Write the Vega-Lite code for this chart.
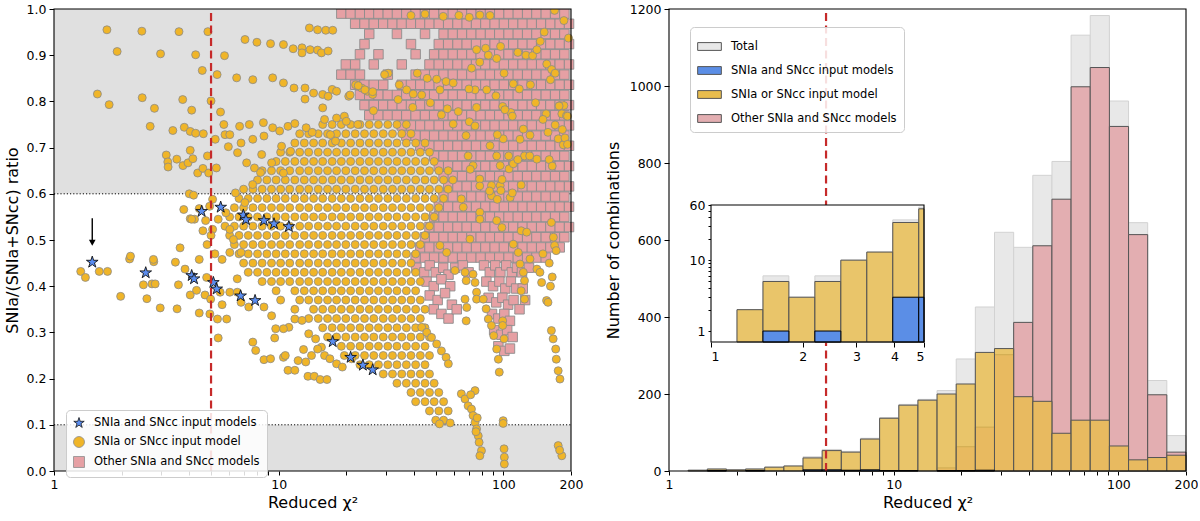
{
  "$schema": "https://vega.github.io/schema/vega-lite/v6.json",
  "background": "white",
  "padding": {"left": 4, "top": 3, "right": 0, "bottom": 2},
  "width": 1132,
  "height": 462,
  "config": {
    "font": "DejaVu Sans",
    "view": {"stroke": null},
    "axis": {"domain": false, "grid": false, "labelFont": "DejaVu Sans", "labelFontSize": 12.5, "labelColor": "black", "titleFont": "DejaVu Sans", "titleFontSize": 16, "titleFontWeight": "normal", "titleColor": "black", "tickColor": "black", "tickWidth": 1, "labelPadding": 3},
    "legend": {"labelFont": "DejaVu Sans", "labelFontSize": 11.5, "labelColor": "black", "labelLimit": 300, "fillColor": "rgba(255,255,255,0.85)", "strokeColor": "#cccccc", "cornerRadius": 4, "padding": 7, "rowPadding": 4, "labelOffset": 9, "direction": "vertical"}
  },
  "resolve": {"scale": {"x": "independent", "y": "independent"}, "axis": {"x": "independent", "y": "independent"}},
  "layer": [
    {
      "data": {"values": [{"x": 1, "x2": 200, "y": 0.6, "y2": 1}, {"x": 1, "x2": 200, "y": 0, "y2": 0.1}]},
      "mark": {"type": "rect", "fill": "#e0e0e0"},
      "encoding": {
        "x": {"field": "x", "type": "quantitative", "scale": {"type": "log", "domain": [1, 200], "range": [0, 517], "nice": false}, "axis": null},
        "x2": {"field": "x2"},
        "y": {"field": "y", "type": "quantitative", "scale": {"domain": [0, 1], "range": [462, 0], "nice": false}, "axis": null},
        "y2": {"field": "y2"}
      }
    },
    {
      "data": {"values": [{"x": 1, "x2": 200, "y": 0.6}, {"x": 1, "x2": 200, "y": 0.1}]},
      "mark": {"type": "rule", "color": "black", "strokeWidth": 1, "strokeDash": [1.2, 2]},
      "encoding": {
        "x": {"field": "x", "type": "quantitative", "scale": {"type": "log", "domain": [1, 200], "range": [0, 517], "nice": false}, "axis": null},
        "x2": {"field": "x2"},
        "y": {"field": "y", "type": "quantitative", "scale": {"domain": [0, 1], "range": [462, 0], "nice": false}, "axis": null}
      }
    },
    {
      "data": {"values": [
      {"x":19,"y":0.99},{"x":20.9,"y":0.99},{"x":23,"y":0.99},{"x":25.3,"y":0.99},{"x":27.8,"y":0.99},{"x":30.6,"y":0.99},{"x":33.6,"y":0.99},{"x":37,"y":0.99},{"x":40.7,"y":0.99},{"x":44.8,"y":0.99},{"x":49.2,"y":0.99},{"x":54.2,"y":0.99},{"x":59.6,"y":0.99},{"x":65.5,"y":0.99},{"x":72.1,"y":0.99},{"x":79.3,"y":0.99},{"x":87.2,"y":0.99},{"x":95.9,"y":0.99},{"x":105.5,"y":0.99},{"x":116,"y":0.99},{"x":127.6,"y":0.99},{"x":140.4,"y":0.99},{"x":154.5,"y":0.99},{"x":169.9,"y":0.99},{"x":186.9,"y":0.99},
      {"x":21.9,"y":0.968},{"x":24.1,"y":0.968},{"x":26.5,"y":0.968},{"x":29.2,"y":0.968},{"x":32.1,"y":0.968},{"x":35.3,"y":0.968},{"x":38.8,"y":0.968},{"x":42.7,"y":0.968},{"x":46.9,"y":0.968},{"x":51.6,"y":0.968},{"x":56.8,"y":0.968},{"x":62.5,"y":0.968},{"x":68.7,"y":0.968},{"x":75.6,"y":0.968},{"x":83.2,"y":0.968},{"x":91.5,"y":0.968},{"x":100.6,"y":0.968},{"x":110.7,"y":0.968},{"x":121.8,"y":0.968},{"x":133.9,"y":0.968},{"x":147.3,"y":0.968},{"x":162,"y":0.968},{"x":178.2,"y":0.968},{"x":196,"y":0.968},
      {"x":25.3,"y":0.946},{"x":33.6,"y":0.946},{"x":44.8,"y":0.946},{"x":54.2,"y":0.946},{"x":59.6,"y":0.946},{"x":65.5,"y":0.946},{"x":72.1,"y":0.946},{"x":79.3,"y":0.946},{"x":87.2,"y":0.946},{"x":95.9,"y":0.946},{"x":105.5,"y":0.946},{"x":116,"y":0.946},{"x":127.6,"y":0.946},{"x":140.4,"y":0.946},{"x":154.5,"y":0.946},{"x":169.9,"y":0.946},{"x":186.9,"y":0.946},
      {"x":24.1,"y":0.924},{"x":38.8,"y":0.924},{"x":51.6,"y":0.924},{"x":56.8,"y":0.924},{"x":62.5,"y":0.924},{"x":68.7,"y":0.924},{"x":75.6,"y":0.924},{"x":83.2,"y":0.924},{"x":91.5,"y":0.924},{"x":100.6,"y":0.924},{"x":110.7,"y":0.924},{"x":121.8,"y":0.924},{"x":133.9,"y":0.924},{"x":147.3,"y":0.924},{"x":162,"y":0.924},{"x":178.2,"y":0.924},{"x":196,"y":0.924},
      {"x":23,"y":0.902},{"x":27.8,"y":0.902},{"x":40.7,"y":0.902},{"x":49.2,"y":0.902},{"x":54.2,"y":0.902},{"x":59.6,"y":0.902},{"x":65.5,"y":0.902},{"x":72.1,"y":0.902},{"x":79.3,"y":0.902},{"x":87.2,"y":0.902},{"x":95.9,"y":0.902},{"x":105.5,"y":0.902},{"x":116,"y":0.902},{"x":127.6,"y":0.902},{"x":140.4,"y":0.902},{"x":154.5,"y":0.902},{"x":169.9,"y":0.902},{"x":186.9,"y":0.902},
      {"x":19.9,"y":0.88},{"x":21.9,"y":0.88},{"x":26.5,"y":0.88},{"x":35.3,"y":0.88},{"x":46.9,"y":0.88},{"x":51.6,"y":0.88},{"x":56.8,"y":0.88},{"x":62.5,"y":0.88},{"x":68.7,"y":0.88},{"x":75.6,"y":0.88},{"x":83.2,"y":0.88},{"x":91.5,"y":0.88},{"x":100.6,"y":0.88},{"x":110.7,"y":0.88},{"x":121.8,"y":0.88},{"x":133.9,"y":0.88},{"x":147.3,"y":0.88},{"x":162,"y":0.88},{"x":178.2,"y":0.88},{"x":196,"y":0.88},
      {"x":19,"y":0.858},{"x":20.9,"y":0.858},{"x":23,"y":0.858},{"x":30.6,"y":0.858},{"x":40.7,"y":0.858},{"x":44.8,"y":0.858},{"x":49.2,"y":0.858},{"x":54.2,"y":0.858},{"x":59.6,"y":0.858},{"x":65.5,"y":0.858},{"x":72.1,"y":0.858},{"x":79.3,"y":0.858},{"x":87.2,"y":0.858},{"x":95.9,"y":0.858},{"x":105.5,"y":0.858},{"x":116,"y":0.858},{"x":127.6,"y":0.858},{"x":140.4,"y":0.858},{"x":154.5,"y":0.858},{"x":169.9,"y":0.858},{"x":186.9,"y":0.858},
      {"x":21.9,"y":0.836},{"x":24.1,"y":0.836},{"x":26.5,"y":0.836},{"x":29.2,"y":0.836},{"x":35.3,"y":0.836},{"x":38.8,"y":0.836},{"x":42.7,"y":0.836},{"x":46.9,"y":0.836},{"x":51.6,"y":0.836},{"x":56.8,"y":0.836},{"x":62.5,"y":0.836},{"x":68.7,"y":0.836},{"x":75.6,"y":0.836},{"x":83.2,"y":0.836},{"x":91.5,"y":0.836},{"x":100.6,"y":0.836},{"x":110.7,"y":0.836},{"x":121.8,"y":0.836},{"x":133.9,"y":0.836},{"x":147.3,"y":0.836},{"x":162,"y":0.836},{"x":178.2,"y":0.836},{"x":196,"y":0.836},
      {"x":23,"y":0.814},{"x":25.3,"y":0.814},{"x":27.8,"y":0.814},{"x":30.6,"y":0.814},{"x":33.6,"y":0.814},{"x":37,"y":0.814},{"x":40.7,"y":0.814},{"x":44.8,"y":0.814},{"x":49.2,"y":0.814},{"x":54.2,"y":0.814},{"x":59.6,"y":0.814},{"x":65.5,"y":0.814},{"x":72.1,"y":0.814},{"x":79.3,"y":0.814},{"x":87.2,"y":0.814},{"x":95.9,"y":0.814},{"x":105.5,"y":0.814},{"x":116,"y":0.814},{"x":127.6,"y":0.814},{"x":140.4,"y":0.814},{"x":154.5,"y":0.814},{"x":169.9,"y":0.814},{"x":186.9,"y":0.814},
      {"x":24.1,"y":0.792},{"x":26.5,"y":0.792},{"x":29.2,"y":0.792},{"x":32.1,"y":0.792},{"x":35.3,"y":0.792},{"x":38.8,"y":0.792},{"x":42.7,"y":0.792},{"x":46.9,"y":0.792},{"x":51.6,"y":0.792},{"x":56.8,"y":0.792},{"x":62.5,"y":0.792},{"x":68.7,"y":0.792},{"x":75.6,"y":0.792},{"x":83.2,"y":0.792},{"x":91.5,"y":0.792},{"x":100.6,"y":0.792},{"x":110.7,"y":0.792},{"x":121.8,"y":0.792},{"x":133.9,"y":0.792},{"x":147.3,"y":0.792},{"x":162,"y":0.792},{"x":178.2,"y":0.792},{"x":196,"y":0.792},
      {"x":25.3,"y":0.77},{"x":27.8,"y":0.77},{"x":30.6,"y":0.77},{"x":33.6,"y":0.77},{"x":37,"y":0.77},{"x":40.7,"y":0.77},{"x":44.8,"y":0.77},{"x":49.2,"y":0.77},{"x":54.2,"y":0.77},{"x":59.6,"y":0.77},{"x":65.5,"y":0.77},{"x":72.1,"y":0.77},{"x":79.3,"y":0.77},{"x":87.2,"y":0.77},{"x":95.9,"y":0.77},{"x":105.5,"y":0.77},{"x":116,"y":0.77},{"x":127.6,"y":0.77},{"x":140.4,"y":0.77},{"x":154.5,"y":0.77},{"x":169.9,"y":0.77},{"x":186.9,"y":0.77},
      {"x":35.3,"y":0.748},{"x":38.8,"y":0.748},{"x":42.7,"y":0.748},{"x":46.9,"y":0.748},{"x":51.6,"y":0.748},{"x":56.8,"y":0.748},{"x":62.5,"y":0.748},{"x":68.7,"y":0.748},{"x":75.6,"y":0.748},{"x":83.2,"y":0.748},{"x":91.5,"y":0.748},{"x":100.6,"y":0.748},{"x":110.7,"y":0.748},{"x":121.8,"y":0.748},{"x":133.9,"y":0.748},{"x":147.3,"y":0.748},{"x":162,"y":0.748},{"x":178.2,"y":0.748},{"x":196,"y":0.748},
      {"x":37,"y":0.726},{"x":40.7,"y":0.726},{"x":44.8,"y":0.726},{"x":49.2,"y":0.726},{"x":54.2,"y":0.726},{"x":59.6,"y":0.726},{"x":65.5,"y":0.726},{"x":72.1,"y":0.726},{"x":79.3,"y":0.726},{"x":87.2,"y":0.726},{"x":95.9,"y":0.726},{"x":105.5,"y":0.726},{"x":116,"y":0.726},{"x":127.6,"y":0.726},{"x":140.4,"y":0.726},{"x":154.5,"y":0.726},{"x":169.9,"y":0.726},{"x":186.9,"y":0.726},
      {"x":42.7,"y":0.704},{"x":46.9,"y":0.704},{"x":51.6,"y":0.704},{"x":56.8,"y":0.704},{"x":62.5,"y":0.704},{"x":68.7,"y":0.704},{"x":75.6,"y":0.704},{"x":83.2,"y":0.704},{"x":91.5,"y":0.704},{"x":100.6,"y":0.704},{"x":110.7,"y":0.704},{"x":121.8,"y":0.704},{"x":133.9,"y":0.704},{"x":147.3,"y":0.704},{"x":162,"y":0.704},{"x":178.2,"y":0.704},{"x":196,"y":0.704},
      {"x":49.2,"y":0.682},{"x":54.2,"y":0.682},{"x":59.6,"y":0.682},{"x":65.5,"y":0.682},{"x":72.1,"y":0.682},{"x":79.3,"y":0.682},{"x":87.2,"y":0.682},{"x":95.9,"y":0.682},{"x":105.5,"y":0.682},{"x":116,"y":0.682},{"x":127.6,"y":0.682},{"x":140.4,"y":0.682},{"x":154.5,"y":0.682},{"x":169.9,"y":0.682},{"x":186.9,"y":0.682},
      {"x":51.6,"y":0.66},{"x":56.8,"y":0.66},{"x":62.5,"y":0.66},{"x":68.7,"y":0.66},{"x":75.6,"y":0.66},{"x":83.2,"y":0.66},{"x":91.5,"y":0.66},{"x":100.6,"y":0.66},{"x":110.7,"y":0.66},{"x":121.8,"y":0.66},{"x":133.9,"y":0.66},{"x":147.3,"y":0.66},{"x":162,"y":0.66},{"x":178.2,"y":0.66},{"x":196,"y":0.66},
      {"x":54.2,"y":0.638},{"x":59.6,"y":0.638},{"x":65.5,"y":0.638},{"x":72.1,"y":0.638},{"x":79.3,"y":0.638},{"x":87.2,"y":0.638},{"x":95.9,"y":0.638},{"x":105.5,"y":0.638},{"x":116,"y":0.638},{"x":127.6,"y":0.638},{"x":140.4,"y":0.638},{"x":154.5,"y":0.638},{"x":169.9,"y":0.638},{"x":186.9,"y":0.638},
      {"x":56.8,"y":0.616},{"x":62.5,"y":0.616},{"x":68.7,"y":0.616},{"x":75.6,"y":0.616},{"x":83.2,"y":0.616},{"x":91.5,"y":0.616},{"x":100.6,"y":0.616},{"x":110.7,"y":0.616},{"x":121.8,"y":0.616},{"x":133.9,"y":0.616},{"x":147.3,"y":0.616},{"x":162,"y":0.616},{"x":178.2,"y":0.616},{"x":196,"y":0.616},
      {"x":54.2,"y":0.594},{"x":59.6,"y":0.594},{"x":65.5,"y":0.594},{"x":72.1,"y":0.594},{"x":79.3,"y":0.594},{"x":87.2,"y":0.594},{"x":95.9,"y":0.594},{"x":105.5,"y":0.594},{"x":116,"y":0.594},{"x":127.6,"y":0.594},{"x":140.4,"y":0.594},{"x":154.5,"y":0.594},{"x":169.9,"y":0.594},{"x":186.9,"y":0.594},
      {"x":51.6,"y":0.572},{"x":56.8,"y":0.572},{"x":62.5,"y":0.572},{"x":68.7,"y":0.572},{"x":75.6,"y":0.572},{"x":83.2,"y":0.572},{"x":91.5,"y":0.572},{"x":100.6,"y":0.572},{"x":110.7,"y":0.572},{"x":121.8,"y":0.572},{"x":133.9,"y":0.572},{"x":147.3,"y":0.572},{"x":162,"y":0.572},{"x":178.2,"y":0.572},{"x":196,"y":0.572},
      {"x":49.2,"y":0.55},{"x":54.2,"y":0.55},{"x":59.6,"y":0.55},{"x":65.5,"y":0.55},{"x":72.1,"y":0.55},{"x":79.3,"y":0.55},{"x":87.2,"y":0.55},{"x":95.9,"y":0.55},{"x":105.5,"y":0.55},{"x":116,"y":0.55},{"x":127.6,"y":0.55},{"x":140.4,"y":0.55},{"x":154.5,"y":0.55},{"x":169.9,"y":0.55},{"x":186.9,"y":0.55},
      {"x":46.9,"y":0.528},{"x":51.6,"y":0.528},{"x":56.8,"y":0.528},{"x":62.5,"y":0.528},{"x":68.7,"y":0.528},{"x":75.6,"y":0.528},{"x":83.2,"y":0.528},{"x":91.5,"y":0.528},{"x":100.6,"y":0.528},{"x":110.7,"y":0.528},{"x":121.8,"y":0.528},{"x":133.9,"y":0.528},{"x":147.3,"y":0.528},{"x":162,"y":0.528},{"x":178.2,"y":0.528},{"x":196,"y":0.528},
      {"x":44.8,"y":0.506},{"x":49.2,"y":0.506},{"x":54.2,"y":0.506},{"x":59.6,"y":0.506},{"x":65.5,"y":0.506},{"x":72.1,"y":0.506},{"x":79.3,"y":0.506},{"x":87.2,"y":0.506},{"x":95.9,"y":0.506},{"x":105.5,"y":0.506},{"x":116,"y":0.506},{"x":127.6,"y":0.506},{"x":140.4,"y":0.506},{"x":154.5,"y":0.506},{"x":169.9,"y":0.506},{"x":186.9,"y":0.506},
      {"x":42.7,"y":0.484},{"x":46.9,"y":0.484},{"x":51.6,"y":0.484},{"x":56.8,"y":0.484},{"x":62.5,"y":0.484},{"x":68.7,"y":0.484},{"x":75.6,"y":0.484},{"x":83.2,"y":0.484},{"x":91.5,"y":0.484},{"x":100.6,"y":0.484},{"x":110.7,"y":0.484},{"x":121.8,"y":0.484},{"x":133.9,"y":0.484},{"x":147.3,"y":0.484},{"x":162,"y":0.484},{"x":178.2,"y":0.484},
      {"x":40.7,"y":0.462},{"x":44.8,"y":0.462},{"x":49.2,"y":0.462},{"x":54.2,"y":0.462},{"x":59.6,"y":0.462},{"x":65.5,"y":0.462},{"x":72.1,"y":0.462},{"x":79.3,"y":0.462},{"x":87.2,"y":0.462},{"x":95.9,"y":0.462},{"x":105.5,"y":0.462},{"x":116,"y":0.462},{"x":127.6,"y":0.462},{"x":140.4,"y":0.462},{"x":154.5,"y":0.462},
      {"x":41,"y":0.44},{"x":44.5,"y":0.43},{"x":47,"y":0.445},{"x":50,"y":0.43},{"x":54,"y":0.44},{"x":57,"y":0.425},{"x":61,"y":0.44},{"x":45.5,"y":0.41},{"x":49,"y":0.4},{"x":53,"y":0.415},{"x":58,"y":0.4},{"x":47,"y":0.38},{"x":51,"y":0.37},{"x":55,"y":0.385},{"x":59,"y":0.36},{"x":49,"y":0.35},{"x":53,"y":0.34},{"x":57,"y":0.33},{"x":62,"y":0.35},{"x":66,"y":0.445},{"x":70,"y":0.43},
      {"x":82,"y":0.445},{"x":87,"y":0.43},{"x":92,"y":0.445},{"x":97,"y":0.43},{"x":103,"y":0.445},{"x":109,"y":0.43},{"x":115,"y":0.44},{"x":121,"y":0.43},{"x":130,"y":0.44},{"x":84,"y":0.41},{"x":90,"y":0.4},{"x":96,"y":0.41},{"x":102,"y":0.395},{"x":108,"y":0.41},{"x":114,"y":0.395},{"x":122,"y":0.395},{"x":86,"y":0.375},{"x":93,"y":0.365},{"x":99,"y":0.375},{"x":105,"y":0.36},{"x":111,"y":0.37},{"x":125,"y":0.37},{"x":118,"y":0.35},{"x":89,"y":0.34},{"x":95,"y":0.33},{"x":101,"y":0.34},{"x":107,"y":0.325},{"x":91,"y":0.305},{"x":98,"y":0.295},{"x":104,"y":0.305},{"x":110,"y":0.29},{"x":95,"y":0.27},{"x":101,"y":0.26},{"x":107,"y":0.265}
      ]},
      "mark": {"type": "point", "filled": true, "opacity": 1, "size": 90, "strokeWidth": 0.9, "clip": true},
      "encoding": {
        "x": {"field": "x", "type": "quantitative", "scale": {"type": "log", "domain": [1, 200], "range": [0, 517], "nice": false},
          "axis": {"orient": "bottom", "title": "Reduced χ²", "values": [1,2,3,4,5,6,7,8,9,10,20,30,40,50,60,70,80,90,100,200],
            "labelExpr": "indexof([1,10,100,200], datum.value) >= 0 ? datum.value + '' : ''",
            "tickSize": 4, "labelFlush": false, "titlePadding": 4}},
        "y": {"field": "y", "type": "quantitative", "scale": {"domain": [0, 1], "range": [462, 0], "nice": false},
          "axis": {"orient": "left", "title": "SNIa/(SNIa+SNcc) ratio", "values": [0,0.1,0.2,0.3,0.4,0.5,0.6,0.7,0.8,0.9,1], "format": ".1f", "tickSize": 5, "titlePadding": 6}},
        "color": {"datum": "Other SNIa and SNcc models", "type": "nominal",
          "scale": {"domain": ["SNIa and SNcc input models", "SNIa or SNcc input model", "Other SNIa and SNcc models"], "range": ["#5b8def", "#f0b528", "#e6a0a4"]},
          "legend": {"title": null, "orient": "none", "legendX": 12, "legendY": 401, "symbolSize": 120, "symbolStrokeWidth": 0.8}},
        "shape": {"datum": "Other SNIa and SNcc models", "type": "nominal",
          "scale": {"domain": ["SNIa and SNcc input models", "SNIa or SNcc input model", "Other SNIa and SNcc models"], "range": ["M0,-1L0.2245,-0.309L0.951,-0.309L0.363,0.118L0.588,0.809L0,0.382L-0.588,0.809L-0.363,0.118L-0.951,-0.309L-0.2245,-0.309Z", "circle", "square"]},
          "legend": {"title": null}},
        "stroke": {"datum": "Other SNIa and SNcc models", "type": "nominal",
          "scale": {"domain": ["SNIa and SNcc input models", "SNIa or SNcc input model", "Other SNIa and SNcc models"], "range": ["#111111", "#8a8a8a", "#8c8c8c"]},
          "legend": {"title": null}}
      }
    },
    {
      "data": {"values": [
      {"x":15.7,"y":0.75},{"x":17.3,"y":0.75},{"x":19,"y":0.75},{"x":20.9,"y":0.75},{"x":23,"y":0.75},{"x":25.3,"y":0.75},{"x":27.8,"y":0.75},{"x":30.6,"y":0.75},{"x":33.6,"y":0.75},{"x":37,"y":0.75},
      {"x":12.4,"y":0.73},{"x":13.6,"y":0.73},{"x":15,"y":0.73},{"x":16.5,"y":0.73},{"x":18.1,"y":0.73},{"x":19.9,"y":0.73},{"x":21.9,"y":0.73},{"x":24.1,"y":0.73},{"x":26.5,"y":0.73},{"x":29.2,"y":0.73},{"x":32.1,"y":0.73},{"x":35.3,"y":0.73},{"x":38.8,"y":0.73},
      {"x":11.8,"y":0.71},{"x":13,"y":0.71},{"x":14.3,"y":0.71},{"x":15.7,"y":0.71},{"x":17.3,"y":0.71},{"x":19,"y":0.71},{"x":20.9,"y":0.71},{"x":23,"y":0.71},{"x":25.3,"y":0.71},{"x":27.8,"y":0.71},{"x":30.6,"y":0.71},{"x":33.6,"y":0.71},{"x":37,"y":0.71},{"x":40.7,"y":0.71},{"x":44.8,"y":0.71},
      {"x":10.2,"y":0.69},{"x":11.2,"y":0.69},{"x":12.4,"y":0.69},{"x":13.6,"y":0.69},{"x":15,"y":0.69},{"x":16.5,"y":0.69},{"x":18.1,"y":0.69},{"x":19.9,"y":0.69},{"x":21.9,"y":0.69},{"x":24.1,"y":0.69},{"x":26.5,"y":0.69},{"x":29.2,"y":0.69},{"x":32.1,"y":0.69},{"x":35.3,"y":0.69},{"x":38.8,"y":0.69},{"x":42.7,"y":0.69},{"x":46.9,"y":0.69},
      {"x":9.74,"y":0.67},{"x":10.7,"y":0.67},{"x":11.8,"y":0.67},{"x":13,"y":0.67},{"x":14.3,"y":0.67},{"x":15.7,"y":0.67},{"x":17.3,"y":0.67},{"x":19,"y":0.67},{"x":20.9,"y":0.67},{"x":23,"y":0.67},{"x":25.3,"y":0.67},{"x":27.8,"y":0.67},{"x":30.6,"y":0.67},{"x":33.6,"y":0.67},{"x":37,"y":0.67},{"x":40.7,"y":0.67},{"x":44.8,"y":0.67},{"x":49.2,"y":0.67},
      {"x":8.44,"y":0.65},{"x":9.29,"y":0.65},{"x":10.2,"y":0.65},{"x":11.2,"y":0.65},{"x":12.4,"y":0.65},{"x":13.6,"y":0.65},{"x":15,"y":0.65},{"x":16.5,"y":0.65},{"x":18.1,"y":0.65},{"x":19.9,"y":0.65},{"x":21.9,"y":0.65},{"x":24.1,"y":0.65},{"x":26.5,"y":0.65},{"x":29.2,"y":0.65},{"x":32.1,"y":0.65},{"x":35.3,"y":0.65},{"x":38.8,"y":0.65},{"x":42.7,"y":0.65},{"x":46.9,"y":0.65},{"x":51.6,"y":0.65},{"x":56.8,"y":0.65},
      {"x":8.05,"y":0.63},{"x":8.86,"y":0.63},{"x":9.74,"y":0.63},{"x":10.7,"y":0.63},{"x":11.8,"y":0.63},{"x":13,"y":0.63},{"x":14.3,"y":0.63},{"x":15.7,"y":0.63},{"x":17.3,"y":0.63},{"x":19,"y":0.63},{"x":20.9,"y":0.63},{"x":23,"y":0.63},{"x":25.3,"y":0.63},{"x":27.8,"y":0.63},{"x":30.6,"y":0.63},{"x":33.6,"y":0.63},{"x":37,"y":0.63},{"x":40.7,"y":0.63},{"x":44.8,"y":0.63},{"x":49.2,"y":0.63},{"x":54.2,"y":0.63},{"x":59.6,"y":0.63},
      {"x":6.98,"y":0.61},{"x":7.68,"y":0.61},{"x":8.44,"y":0.61},{"x":9.29,"y":0.61},{"x":10.2,"y":0.61},{"x":11.2,"y":0.61},{"x":12.4,"y":0.61},{"x":13.6,"y":0.61},{"x":15,"y":0.61},{"x":16.5,"y":0.61},{"x":18.1,"y":0.61},{"x":19.9,"y":0.61},{"x":21.9,"y":0.61},{"x":24.1,"y":0.61},{"x":26.5,"y":0.61},{"x":29.2,"y":0.61},{"x":32.1,"y":0.61},{"x":35.3,"y":0.61},{"x":38.8,"y":0.61},{"x":42.7,"y":0.61},{"x":46.9,"y":0.61},{"x":51.6,"y":0.61},{"x":56.8,"y":0.61},
      {"x":6.66,"y":0.59},{"x":7.32,"y":0.59},{"x":8.05,"y":0.59},{"x":8.86,"y":0.59},{"x":9.74,"y":0.59},{"x":10.7,"y":0.59},{"x":11.8,"y":0.59},{"x":13,"y":0.59},{"x":14.3,"y":0.59},{"x":15.7,"y":0.59},{"x":17.3,"y":0.59},{"x":19,"y":0.59},{"x":20.9,"y":0.59},{"x":23,"y":0.59},{"x":25.3,"y":0.59},{"x":27.8,"y":0.59},{"x":30.6,"y":0.59},{"x":33.6,"y":0.59},{"x":37,"y":0.59},{"x":40.7,"y":0.59},{"x":44.8,"y":0.59},{"x":49.2,"y":0.59},{"x":54.2,"y":0.59},
      {"x":6.35,"y":0.57},{"x":6.98,"y":0.57},{"x":7.68,"y":0.57},{"x":8.44,"y":0.57},{"x":9.29,"y":0.57},{"x":10.2,"y":0.57},{"x":11.2,"y":0.57},{"x":12.4,"y":0.57},{"x":13.6,"y":0.57},{"x":15,"y":0.57},{"x":16.5,"y":0.57},{"x":18.1,"y":0.57},{"x":19.9,"y":0.57},{"x":21.9,"y":0.57},{"x":24.1,"y":0.57},{"x":26.5,"y":0.57},{"x":29.2,"y":0.57},{"x":32.1,"y":0.57},{"x":35.3,"y":0.57},{"x":38.8,"y":0.57},{"x":42.7,"y":0.57},{"x":46.9,"y":0.57},{"x":51.6,"y":0.57},
      {"x":6.05,"y":0.55},{"x":6.66,"y":0.55},{"x":7.32,"y":0.55},{"x":8.05,"y":0.55},{"x":8.86,"y":0.55},{"x":9.74,"y":0.55},{"x":10.7,"y":0.55},{"x":11.8,"y":0.55},{"x":13,"y":0.55},{"x":14.3,"y":0.55},{"x":15.7,"y":0.55},{"x":17.3,"y":0.55},{"x":19,"y":0.55},{"x":20.9,"y":0.55},{"x":23,"y":0.55},{"x":25.3,"y":0.55},{"x":27.8,"y":0.55},{"x":30.6,"y":0.55},{"x":33.6,"y":0.55},{"x":37,"y":0.55},{"x":40.7,"y":0.55},{"x":44.8,"y":0.55},{"x":49.2,"y":0.55},
      {"x":5.77,"y":0.53},{"x":6.35,"y":0.53},{"x":6.98,"y":0.53},{"x":7.68,"y":0.53},{"x":8.44,"y":0.53},{"x":9.29,"y":0.53},{"x":10.2,"y":0.53},{"x":11.2,"y":0.53},{"x":12.4,"y":0.53},{"x":13.6,"y":0.53},{"x":15,"y":0.53},{"x":16.5,"y":0.53},{"x":18.1,"y":0.53},{"x":19.9,"y":0.53},{"x":21.9,"y":0.53},{"x":24.1,"y":0.53},{"x":26.5,"y":0.53},{"x":29.2,"y":0.53},{"x":32.1,"y":0.53},{"x":35.3,"y":0.53},{"x":38.8,"y":0.53},{"x":42.7,"y":0.53},{"x":46.9,"y":0.53},
      {"x":6.05,"y":0.51},{"x":6.66,"y":0.51},{"x":7.32,"y":0.51},{"x":8.05,"y":0.51},{"x":8.86,"y":0.51},{"x":9.74,"y":0.51},{"x":10.7,"y":0.51},{"x":11.8,"y":0.51},{"x":13,"y":0.51},{"x":14.3,"y":0.51},{"x":15.7,"y":0.51},{"x":17.3,"y":0.51},{"x":19,"y":0.51},{"x":20.9,"y":0.51},{"x":23,"y":0.51},{"x":25.3,"y":0.51},{"x":27.8,"y":0.51},{"x":30.6,"y":0.51},{"x":33.6,"y":0.51},{"x":37,"y":0.51},{"x":40.7,"y":0.51},{"x":44.8,"y":0.51},
      {"x":6.35,"y":0.49},{"x":6.98,"y":0.49},{"x":7.68,"y":0.49},{"x":8.44,"y":0.49},{"x":9.29,"y":0.49},{"x":10.2,"y":0.49},{"x":11.2,"y":0.49},{"x":12.4,"y":0.49},{"x":13.6,"y":0.49},{"x":15,"y":0.49},{"x":16.5,"y":0.49},{"x":18.1,"y":0.49},{"x":19.9,"y":0.49},{"x":21.9,"y":0.49},{"x":24.1,"y":0.49},{"x":26.5,"y":0.49},{"x":29.2,"y":0.49},{"x":32.1,"y":0.49},{"x":35.3,"y":0.49},{"x":38.8,"y":0.49},{"x":42.7,"y":0.49},
      {"x":6.66,"y":0.47},{"x":7.32,"y":0.47},{"x":8.05,"y":0.47},{"x":8.86,"y":0.47},{"x":9.74,"y":0.47},{"x":10.7,"y":0.47},{"x":11.8,"y":0.47},{"x":13,"y":0.47},{"x":14.3,"y":0.47},{"x":15.7,"y":0.47},{"x":17.3,"y":0.47},{"x":19,"y":0.47},{"x":20.9,"y":0.47},{"x":23,"y":0.47},{"x":25.3,"y":0.47},{"x":27.8,"y":0.47},{"x":30.6,"y":0.47},{"x":33.6,"y":0.47},{"x":37,"y":0.47},{"x":40.7,"y":0.47},
      {"x":6.98,"y":0.45},{"x":7.68,"y":0.45},{"x":8.44,"y":0.45},{"x":9.29,"y":0.45},{"x":10.2,"y":0.45},{"x":11.2,"y":0.45},{"x":12.4,"y":0.45},{"x":13.6,"y":0.45},{"x":15,"y":0.45},{"x":16.5,"y":0.45},{"x":18.1,"y":0.45},{"x":19.9,"y":0.45},{"x":21.9,"y":0.45},{"x":24.1,"y":0.45},{"x":26.5,"y":0.45},{"x":29.2,"y":0.45},{"x":32.1,"y":0.45},{"x":35.3,"y":0.45},{"x":38.8,"y":0.45},
      {"x":7.32,"y":0.43},{"x":8.05,"y":0.43},{"x":8.86,"y":0.43},{"x":9.74,"y":0.43},{"x":10.7,"y":0.43},{"x":11.8,"y":0.43},{"x":13,"y":0.43},{"x":14.3,"y":0.43},{"x":15.7,"y":0.43},{"x":17.3,"y":0.43},{"x":19,"y":0.43},{"x":20.9,"y":0.43},{"x":23,"y":0.43},{"x":25.3,"y":0.43},{"x":27.8,"y":0.43},{"x":30.6,"y":0.43},{"x":33.6,"y":0.43},{"x":37,"y":0.43},{"x":40.7,"y":0.43},
      {"x":8.44,"y":0.41},{"x":9.29,"y":0.41},{"x":10.2,"y":0.41},{"x":11.2,"y":0.41},{"x":12.4,"y":0.41},{"x":13.6,"y":0.41},{"x":15,"y":0.41},{"x":16.5,"y":0.41},{"x":18.1,"y":0.41},{"x":19.9,"y":0.41},{"x":21.9,"y":0.41},{"x":24.1,"y":0.41},{"x":26.5,"y":0.41},{"x":29.2,"y":0.41},{"x":32.1,"y":0.41},{"x":35.3,"y":0.41},{"x":38.8,"y":0.41},{"x":42.7,"y":0.41},
      {"x":9.74,"y":0.39},{"x":11.8,"y":0.39},{"x":13,"y":0.39},{"x":14.3,"y":0.39},{"x":15.7,"y":0.39},{"x":17.3,"y":0.39},{"x":19,"y":0.39},{"x":20.9,"y":0.39},{"x":23,"y":0.39},{"x":25.3,"y":0.39},{"x":27.8,"y":0.39},{"x":30.6,"y":0.39},{"x":33.6,"y":0.39},{"x":37,"y":0.39},{"x":40.7,"y":0.39},
      {"x":10.2,"y":0.37},{"x":12.4,"y":0.37},{"x":13.6,"y":0.37},{"x":15,"y":0.37},{"x":16.5,"y":0.37},{"x":18.1,"y":0.37},{"x":19.9,"y":0.37},{"x":21.9,"y":0.37},{"x":24.1,"y":0.37},{"x":26.5,"y":0.37},{"x":29.2,"y":0.37},{"x":32.1,"y":0.37},{"x":35.3,"y":0.37},{"x":38.8,"y":0.37},{"x":42.7,"y":0.37},
      {"x":11.8,"y":0.35},{"x":14.3,"y":0.35},{"x":15.7,"y":0.35},{"x":17.3,"y":0.35},{"x":19,"y":0.35},{"x":20.9,"y":0.35},{"x":23,"y":0.35},{"x":25.3,"y":0.35},{"x":27.8,"y":0.35},{"x":30.6,"y":0.35},{"x":33.6,"y":0.35},{"x":37,"y":0.35},{"x":40.7,"y":0.35},{"x":44.8,"y":0.35},
      {"x":13.6,"y":0.33},{"x":15,"y":0.33},{"x":16.5,"y":0.33},{"x":18.1,"y":0.33},{"x":19.9,"y":0.33},{"x":21.9,"y":0.33},{"x":24.1,"y":0.33},{"x":26.5,"y":0.33},{"x":29.2,"y":0.33},{"x":32.1,"y":0.33},{"x":35.3,"y":0.33},{"x":38.8,"y":0.33},{"x":42.7,"y":0.33},
      {"x":15.7,"y":0.31},{"x":17.3,"y":0.31},{"x":19,"y":0.31},{"x":20.9,"y":0.31},{"x":23,"y":0.31},{"x":25.3,"y":0.31},{"x":27.8,"y":0.31},{"x":30.6,"y":0.31},{"x":33.6,"y":0.31},{"x":37,"y":0.31},{"x":40.7,"y":0.31},{"x":44.8,"y":0.31},
      {"x":16.5,"y":0.29},{"x":18.1,"y":0.29},{"x":19.9,"y":0.29},{"x":21.9,"y":0.29},{"x":24.1,"y":0.29},{"x":26.5,"y":0.29},{"x":29.2,"y":0.29},{"x":32.1,"y":0.29},{"x":35.3,"y":0.29},{"x":38.8,"y":0.29},{"x":42.7,"y":0.29},{"x":46.9,"y":0.29},
      {"x":19,"y":0.27},{"x":20.9,"y":0.27},{"x":23,"y":0.27},{"x":25.3,"y":0.27},{"x":27.8,"y":0.27},{"x":30.6,"y":0.27},{"x":33.6,"y":0.27},{"x":37,"y":0.27},{"x":40.7,"y":0.27},{"x":44.8,"y":0.27},
      {"x":21.9,"y":0.25},{"x":24.1,"y":0.25},{"x":26.5,"y":0.25},{"x":29.2,"y":0.25},{"x":32.1,"y":0.25},{"x":35.3,"y":0.25},{"x":38.8,"y":0.25},{"x":42.7,"y":0.25},{"x":46.9,"y":0.25},
      {"x":23,"y":0.23},{"x":25.3,"y":0.23},{"x":27.8,"y":0.23},{"x":30.6,"y":0.23},{"x":33.6,"y":0.23},{"x":37,"y":0.23},{"x":40.7,"y":0.23},{"x":44.8,"y":0.23},
      {"x":29.2,"y":0.21},{"x":32.1,"y":0.21},{"x":35.3,"y":0.21},{"x":38.8,"y":0.21},{"x":42.7,"y":0.21},{"x":46.9,"y":0.21},
      {"x":33.6,"y":0.19},{"x":37,"y":0.19},{"x":40.7,"y":0.19},{"x":44.8,"y":0.19},{"x":49.2,"y":0.19},
      {"x":38.8,"y":0.17},{"x":42.7,"y":0.17},{"x":46.9,"y":0.17},{"x":51.6,"y":0.17},
      {"x":40.7,"y":0.15},{"x":44.8,"y":0.15},{"x":49.2,"y":0.15},{"x":54.2,"y":0.15},
      {"x":46.9,"y":0.13},{"x":51.6,"y":0.13},{"x":56.8,"y":0.13},
      {"x":50,"y":0.11},{"x":54.2,"y":0.11},{"x":52,"y":0.102},{"x":58,"y":0.104},
      {"x":1.72,"y":0.955},{"x":2.46,"y":0.952},{"x":3.6,"y":0.951},{"x":4.84,"y":0.951},{"x":1.91,"y":0.908},{"x":2.98,"y":0.903},{"x":4.27,"y":0.901},{"x":4.57,"y":0.867},{"x":5.74,"y":0.899},{"x":5.32,"y":0.858},{"x":1.56,"y":0.816},{"x":1.76,"y":0.793},{"x":2.47,"y":0.808},{"x":2.8,"y":0.785},{"x":3.74,"y":0.804},{"x":4.1,"y":0.781},{"x":5,"y":0.801},{"x":5.51,"y":0.777},{"x":2.68,"y":0.746},{"x":3.38,"y":0.737},{"x":3.8,"y":0.744},{"x":4.04,"y":0.735},{"x":4.27,"y":0.731},{"x":4.62,"y":0.73},{"x":3.16,"y":0.684},{"x":3.21,"y":0.669},{"x":3.22,"y":0.658},{"x":3.52,"y":0.675},{"x":3.75,"y":0.661},{"x":4.04,"y":0.694},{"x":3.95,"y":0.667},{"x":4.15,"y":0.676},{"x":4.36,"y":0.645},{"x":4.6,"y":0.655},{"x":4.82,"y":0.682},{"x":4.88,"y":0.645},{"x":4,"y":0.6},{"x":4.18,"y":0.597},{"x":3.78,"y":0.566},{"x":4.04,"y":0.546},{"x":4.22,"y":0.545},{"x":4.93,"y":0.573},{"x":5.08,"y":0.588},{"x":5.28,"y":0.656},{"x":5.22,"y":0.718},{"x":5.7,"y":0.75},{"x":5.77,"y":0.728},{"x":6.06,"y":0.728},{"x":5.97,"y":0.702},
      {"x":7.08,"y":0.934},{"x":8,"y":0.928},{"x":9.2,"y":0.925},{"x":10.5,"y":0.923},{"x":11.6,"y":0.914},{"x":12.7,"y":0.916},{"x":12.7,"y":0.905},{"x":13.8,"y":0.912},{"x":14.9,"y":0.911},{"x":15.5,"y":0.905},{"x":16.6,"y":0.909},{"x":13.7,"y":0.959},{"x":14.9,"y":0.955},{"x":16.2,"y":0.954},{"x":17.4,"y":0.954},{"x":6.5,"y":0.851},{"x":7.67,"y":0.847},{"x":9.4,"y":0.851},{"x":10.5,"y":0.84},{"x":11.7,"y":0.829},{"x":13.1,"y":0.829},{"x":13.1,"y":0.805},{"x":14.3,"y":0.818},{"x":15.7,"y":0.815},{"x":15.7,"y":0.786},{"x":16.6,"y":0.811},{"x":17.3,"y":0.826},{"x":18.1,"y":0.822},{"x":20.5,"y":0.811},{"x":22,"y":0.836},{"x":23.4,"y":0.829},{"x":24.8,"y":0.822},{"x":26.2,"y":0.815},{"x":6.7,"y":0.746},{"x":7.4,"y":0.75},{"x":8.55,"y":0.754},{"x":9.4,"y":0.743},{"x":10.1,"y":0.736},{"x":11,"y":0.746},{"x":11.8,"y":0.752},{"x":13.25,"y":0.743},{"x":14.1,"y":0.733},{"x":16,"y":0.761},{"x":18.1,"y":0.764},{"x":19.6,"y":0.768},{"x":20,"y":0.757},{"x":22.5,"y":0.75},{"x":6.8,"y":0.71},{"x":7.67,"y":0.718},{"x":8.6,"y":0.725},{"x":10.3,"y":0.703},{"x":11.3,"y":0.692},{"x":17.9,"y":0.714},{"x":17,"y":0.728},{"x":6.56,"y":0.689},{"x":7.2,"y":0.667},{"x":7.8,"y":0.656},{"x":8.4,"y":0.685},{"x":9.3,"y":0.667},{"x":10.5,"y":0.645},
      {"x":1.315,"y":0.432},{"x":1.38,"y":0.419},{"x":1.59,"y":0.432},{"x":1.73,"y":0.432},{"x":1.98,"y":0.378},{"x":2.17,"y":0.459},{"x":2.5,"y":0.403},{"x":2.59,"y":0.373},{"x":2.73,"y":0.405},{"x":2.82,"y":0.405},{"x":2.78,"y":0.453},{"x":2.97,"y":0.353},{"x":3.47,"y":0.452},{"x":3.58,"y":0.403},{"x":3.53,"y":0.351},{"x":3.83,"y":0.437},{"x":4.04,"y":0.381},{"x":4.31,"y":0.391},{"x":4.43,"y":0.342},{"x":4.7,"y":0.381},{"x":4.78,"y":0.419},{"x":4.94,"y":0.34},{"x":4.98,"y":0.372},{"x":5.49,"y":0.387},{"x":5.34,"y":0.329},{"x":5.38,"y":0.288},{"x":5.6,"y":0.36},{"x":5.87,"y":0.329},{"x":6.06,"y":0.387},{"x":6.54,"y":0.387},{"x":6.54,"y":0.416},{"x":6.8,"y":0.365},{"x":7.36,"y":0.355},{"x":8.6,"y":0.355},{"x":9.3,"y":0.336},{"x":9.6,"y":0.288},{"x":7.67,"y":0.279},{"x":7.9,"y":0.261},{"x":8.6,"y":0.241},{"x":9.2,"y":0.243},{"x":10.5,"y":0.246},{"x":10.7,"y":0.25},{"x":11,"y":0.218},{"x":11.8,"y":0.218},{"x":12.2,"y":0.239},{"x":12.9,"y":0.263},{"x":13.2,"y":0.236},{"x":13.5,"y":0.205},{"x":14.4,"y":0.205},{"x":15.3,"y":0.198},{"x":16.4,"y":0.198},{"x":11.8,"y":0.329},{"x":12.7,"y":0.326},{"x":11.1,"y":0.311},{"x":10.5,"y":0.308},{"x":9.7,"y":0.308},{"x":13.6,"y":0.297},{"x":14.6,"y":0.286},{"x":15.5,"y":0.268},{"x":16,"y":0.25},{"x":16.9,"y":0.243},{"x":18.1,"y":0.232},{"x":14,"y":0.25},{"x":14.9,"y":0.264},{"x":19.6,"y":0.25},{"x":19.2,"y":0.225},{"x":21.1,"y":0.243},
      {"x":4.43,"y":0.568},{"x":4.73,"y":0.542},{"x":4.1,"y":0.545},{"x":3.64,"y":0.483},{"x":2.19,"y":0.465},{"x":2.77,"y":0.458},{"x":4.43,"y":0.458},{"x":5.6,"y":0.458},{"x":5.08,"y":0.523},{"x":5.38,"y":0.545},{"x":5.82,"y":0.559},{"x":6.06,"y":0.523},{"x":6.29,"y":0.501},{"x":6.8,"y":0.473},{"x":6.06,"y":0.473},{"x":7.07,"y":0.581},{"x":6.42,"y":0.602},{"x":7.66,"y":0.62},{"x":8.3,"y":0.646},{"x":4.6,"y":0.52},{"x":5,"y":0.51},{"x":4.8,"y":0.49},{"x":5.2,"y":0.47},
      {"x":38.8,"y":0.986},{"x":44.8,"y":0.989},{"x":54,"y":0.984},{"x":63.4,"y":0.986},{"x":70.5,"y":0.982},{"x":78.6,"y":0.987},{"x":87.2,"y":0.986},{"x":169,"y":0.997},{"x":186,"y":0.975},{"x":195,"y":0.937},{"x":76,"y":0.912},{"x":83.4,"y":0.915},{"x":85.7,"y":0.9},{"x":93.4,"y":0.893},{"x":97.2,"y":0.919},{"x":116,"y":0.906},{"x":126,"y":0.9},{"x":135,"y":0.899},{"x":141,"y":0.912},{"x":156,"y":0.881},{"x":164,"y":0.869},{"x":170,"y":0.861},{"x":72.2,"y":0.872},{"x":74.8,"y":0.825},{"x":84.3,"y":0.825},{"x":92.7,"y":0.812},{"x":100.7,"y":0.861},{"x":110.7,"y":0.838},{"x":117.7,"y":0.827},{"x":99.3,"y":0.789},{"x":107.9,"y":0.776},{"x":122.7,"y":0.74},{"x":131.4,"y":0.727},{"x":155,"y":0.773},{"x":170,"y":0.749},{"x":178.6,"y":0.791},{"x":186,"y":0.791},{"x":182,"y":0.773},{"x":191,"y":0.769},{"x":175.5,"y":0.719},{"x":184.8,"y":0.706},{"x":30.7,"y":0.861},{"x":34.4,"y":0.836},{"x":37.1,"y":0.825},{"x":39.7,"y":0.816},{"x":43.3,"y":0.814},{"x":41.4,"y":0.861},{"x":45.8,"y":0.85},{"x":50.5,"y":0.848},{"x":55.6,"y":0.843},{"x":59.8,"y":0.84},{"x":52.2,"y":0.825},{"x":70.3,"y":0.827},{"x":22.6,"y":0.834},{"x":24.2,"y":0.825},{"x":26.2,"y":0.821},{"x":20.8,"y":0.814},{"x":26.4,"y":0.78},{"x":39.5,"y":0.787},{"x":56.3,"y":0.784},{"x":63,"y":0.778},{"x":76,"y":0.787},{"x":70.5,"y":0.756},{"x":74.8,"y":0.747},{"x":59.8,"y":0.751},{"x":53,"y":0.771},{"x":68.2,"y":0.726},{"x":87.2,"y":0.704},{"x":93.4,"y":0.682},{"x":96.8,"y":0.661},{"x":106,"y":0.654},{"x":110.7,"y":0.665},{"x":69.7,"y":0.682},{"x":73.3,"y":0.661},{"x":78.5,"y":0.632},{"x":78.5,"y":0.617},{"x":88.5,"y":0.618},{"x":88.5,"y":0.596},{"x":96.8,"y":0.618},{"x":97.5,"y":0.607},{"x":107.2,"y":0.592},{"x":120,"y":0.619},{"x":124.2,"y":0.682},{"x":99.8,"y":0.719},{"x":65,"y":0.589},{"x":66.3,"y":0.571},{"x":78.6,"y":0.56},{"x":78.6,"y":0.545},{"x":93.4,"y":0.542},{"x":98.5,"y":0.527},{"x":120,"y":0.52},{"x":127,"y":0.517},{"x":163.5,"y":0.538},{"x":167,"y":0.506},{"x":141,"y":0.675},{"x":158,"y":0.733},{"x":162,"y":0.847},{"x":132,"y":0.836},{"x":139,"y":0.797},{"x":150,"y":0.761},{"x":177,"y":0.79},{"x":193,"y":0.768},{"x":183,"y":0.739},{"x":188,"y":0.721},{"x":193,"y":0.707},{"x":94,"y":0.728},{"x":105.6,"y":0.682},{"x":116,"y":0.674},{"x":131,"y":0.682},{"x":98.6,"y":0.631},{"x":86.8,"y":0.606},{"x":109.6,"y":0.602},{"x":94,"y":0.588},{"x":71.2,"y":0.653},{"x":118.6,"y":0.718},{"x":160,"y":0.674},{"x":165,"y":0.66},{"x":101.6,"y":0.782},{"x":109.6,"y":0.768},{"x":29.6,"y":0.858},{"x":34,"y":0.804},{"x":47.3,"y":0.797},{"x":78.5,"y":0.885},{"x":146,"y":0.93},{"x":152,"y":0.95},
      {"x":110.7,"y":0.491},{"x":116.5,"y":0.473},{"x":71,"y":0.502},{"x":52.2,"y":0.488},{"x":55.9,"y":0.473},{"x":169,"y":0.488},{"x":171.8,"y":0.477},{"x":60.9,"y":0.434},{"x":67.5,"y":0.43},{"x":68.3,"y":0.412},{"x":67.5,"y":0.372},{"x":68.7,"y":0.354},{"x":68.3,"y":0.325},{"x":73.3,"y":0.426},{"x":74.8,"y":0.408},{"x":76,"y":0.387},{"x":76,"y":0.372},{"x":81.4,"y":0.372},{"x":83.8,"y":0.351},{"x":85.7,"y":0.329},{"x":88.5,"y":0.315},{"x":90.6,"y":0.293},{"x":93.4,"y":0.264},{"x":95,"y":0.242},{"x":95.9,"y":0.214},{"x":99.3,"y":0.325},{"x":99.3,"y":0.315},{"x":100.7,"y":0.286},{"x":118.6,"y":0.448},{"x":122.7,"y":0.43},{"x":124.2,"y":0.412},{"x":120,"y":0.39},{"x":124.2,"y":0.372},{"x":131.4,"y":0.459},{"x":141,"y":0.437},{"x":145.5,"y":0.43},{"x":148,"y":0.408},{"x":155.7,"y":0.369},{"x":158,"y":0.365},{"x":150,"y":0.47},{"x":160,"y":0.45},{"x":165,"y":0.42},{"x":162,"y":0.4},{"x":163.6,"y":0.304},{"x":166.6,"y":0.286},{"x":171,"y":0.264},{"x":172,"y":0.242},{"x":175.4,"y":0.217},{"x":178.6,"y":0.199},
      {"x":43.3,"y":0.311},{"x":45.6,"y":0.3},{"x":47.9,"y":0.289},{"x":50.5,"y":0.275},{"x":53,"y":0.26},{"x":55.6,"y":0.246},{"x":56.9,"y":0.232},
      {"x":65,"y":0.167},{"x":67.5,"y":0.156},{"x":69.7,"y":0.141},{"x":72.1,"y":0.134},{"x":73.3,"y":0.12},{"x":74.8,"y":0.105},{"x":76,"y":0.091},{"x":77.3,"y":0.076},{"x":78,"y":0.062},{"x":79.9,"y":0.044},{"x":78.6,"y":0.033},{"x":74.8,"y":0.174},{"x":71.5,"y":0.165},{"x":76.5,"y":0.115},{"x":75.5,"y":0.085},
      {"x":99.8,"y":0.109},{"x":99.8,"y":0.103},{"x":100.7,"y":0.048},{"x":101,"y":0.03},{"x":101,"y":0.015},{"x":175.4,"y":0.055},{"x":182,"y":0.033},{"x":178,"y":0.045}
      ]},
      "mark": {"type": "point", "filled": true, "opacity": 1, "size": 64, "strokeWidth": 0.8, "clip": true},
      "encoding": {
        "x": {"field": "x", "type": "quantitative", "scale": {"type": "log", "domain": [1, 200], "range": [0, 517], "nice": false}, "axis": null},
        "y": {"field": "y", "type": "quantitative", "scale": {"domain": [0, 1], "range": [462, 0], "nice": false}, "axis": null},
        "color": {"datum": "SNIa or SNcc input model", "type": "nominal"},
        "shape": {"datum": "SNIa or SNcc input model", "type": "nominal"},
        "stroke": {"datum": "SNIa or SNcc input model", "type": "nominal"}
      }
    },
    {
      "data": {"values": [
      {"x":1.48,"y":0.452},{"x":2.56,"y":0.429},{"x":4.1,"y":0.423},{"x":4.2,"y":0.416},{"x":4.54,"y":0.562},{"x":5.12,"y":0.408},{"x":5.3,"y":0.394},{"x":5.52,"y":0.571},{"x":6.77,"y":0.379},{"x":6.96,"y":0.554},{"x":7.15,"y":0.544},{"x":7.85,"y":0.369},{"x":8.6,"y":0.542},{"x":9.53,"y":0.535},{"x":11.1,"y":0.529},{"x":17.4,"y":0.28},{"x":20.9,"y":0.246},{"x":23.7,"y":0.229},{"x":26.2,"y":0.219}
      ]},
      "mark": {"type": "point", "filled": true, "opacity": 1, "size": 150, "strokeWidth": 0.9},
      "encoding": {
        "x": {"field": "x", "type": "quantitative", "scale": {"type": "log", "domain": [1, 200], "range": [0, 517], "nice": false}, "axis": null},
        "y": {"field": "y", "type": "quantitative", "scale": {"domain": [0, 1], "range": [462, 0], "nice": false}, "axis": null},
        "color": {"datum": "SNIa and SNcc input models", "type": "nominal"},
        "shape": {"datum": "SNIa and SNcc input models", "type": "nominal"},
        "stroke": {"datum": "SNIa and SNcc input models", "type": "nominal"}
      }
    },
    {
      "data": {"values": [{"x": 5, "y": 0, "y2": 1}]},
      "mark": {"type": "rule", "color": "#c62a2a", "strokeWidth": 2.2, "strokeDash": [8, 4.5]},
      "encoding": {
        "x": {"field": "x", "type": "quantitative", "scale": {"type": "log", "domain": [1, 200], "range": [0, 517], "nice": false}, "axis": null},
        "y": {"field": "y", "type": "quantitative", "scale": {"domain": [0, 1], "range": [462, 0], "nice": false}, "axis": null},
        "y2": {"field": "y2"}
      }
    },
    {
      "data": {"values": [{"x": 1.48, "y": 0.547, "y2": 0.5}]},
      "mark": {"type": "rule", "color": "black", "strokeWidth": 1.4},
      "encoding": {
        "x": {"field": "x", "type": "quantitative", "scale": {"type": "log", "domain": [1, 200], "range": [0, 517], "nice": false}, "axis": null},
        "y": {"field": "y", "type": "quantitative", "scale": {"domain": [0, 1], "range": [462, 0], "nice": false}, "axis": null},
        "y2": {"field": "y2"}
      }
    },
    {
      "data": {"values": [{"x": 1.48, "y": 0.494}]},
      "mark": {"type": "point", "shape": "triangle-down", "filled": true, "color": "black", "size": 45, "opacity": 1},
      "encoding": {
        "x": {"field": "x", "type": "quantitative", "scale": {"type": "log", "domain": [1, 200], "range": [0, 517], "nice": false}, "axis": null},
        "y": {"field": "y", "type": "quantitative", "scale": {"domain": [0, 1], "range": [462, 0], "nice": false}, "axis": null}
      }
    },
    {
      "data": {"values": [{"x": 1, "x2": 200, "y": 0, "y2": 1}]},
      "mark": {"type": "rect", "filled": false, "color": "black", "strokeWidth": 1.1},
      "encoding": {
        "x": {"field": "x", "type": "quantitative", "scale": {"type": "log", "domain": [1, 200], "range": [0, 517], "nice": false}, "axis": null},
        "x2": {"field": "x2"},
        "y": {"field": "y", "type": "quantitative", "scale": {"domain": [0, 1], "range": [462, 0], "nice": false}, "axis": null},
        "y2": {"field": "y2"}
      }
    },
    {
      "data": {"values": [
        {"lo":1.217,"hi":1.481,"n":2},{"lo":1.481,"hi":1.801,"n":6},{"lo":1.801,"hi":2.192,"n":3},{"lo":2.192,"hi":2.667,"n":6},{"lo":2.667,"hi":3.245,"n":10},{"lo":3.245,"hi":3.949,"n":13},{"lo":3.949,"hi":4.805,"n":37},{"lo":4.805,"hi":5.847,"n":56},{"lo":5.847,"hi":7.115,"n":51},{"lo":7.115,"hi":8.657,"n":85},{"lo":8.657,"hi":10.54,"n":139},{"lo":10.54,"hi":12.82,"n":173},{"lo":12.82,"hi":15.6,"n":186},{"lo":15.6,"hi":18.98,"n":209},{"lo":18.98,"hi":23.09,"n":291},{"lo":23.09,"hi":28.1,"n":426},{"lo":28.1,"hi":34.2,"n":620},{"lo":34.2,"hi":41.61,"n":581},{"lo":41.61,"hi":50.63,"n":768},{"lo":50.63,"hi":61.6,"n":804},{"lo":61.6,"hi":74.95,"n":1132},{"lo":74.95,"hi":91.22,"n":1183},{"lo":91.22,"hi":111,"n":961},{"lo":111,"hi":135.05,"n":645},{"lo":135.05,"hi":164.3,"n":235},{"lo":164.3,"hi":200,"n":92}
      ]},
      "mark": {"type": "rect", "strokeWidth": 1, "stroke": "#d2d2d2"},
      "encoding": {
        "x": {"field": "lo", "type": "quantitative", "scale": {"type": "log", "domain": [1, 200], "range": [615, 1132], "nice": false},
          "axis": {"orient": "bottom", "title": "Reduced χ²", "values": [1,2,3,4,5,6,7,8,9,10,20,30,40,50,60,70,80,90,100,200],
            "labelExpr": "indexof([1,10,100,200], datum.value) >= 0 ? datum.value + '' : ''",
            "tickSize": 4, "labelFlush": false, "titlePadding": 4}},
        "x2": {"field": "hi"},
        "y": {"field": "n", "type": "quantitative", "scale": {"domain": [0, 1200], "range": [462, 0], "nice": false},
          "axis": {"orient": "left", "offset": -615, "title": "Number of combinations", "values": [0,200,400,600,800,1000,1200], "format": "d", "tickSize": 5, "titlePadding": 8}},
        "y2": {"datum": 0},
        "fill": {"datum": "Total", "type": "nominal",
          "scale": {"domain": ["Total", "SNIa and SNcc input models", "SNIa or SNcc input model", "Other SNIa and SNcc models"], "range": ["#e8e8e8", "#5b8ee6", "#e9bd4e", "#e3aeb1"]},
          "legend": {"title": null, "orient": "none", "legendX": 636, "legendY": 18, "symbolType": "M-1,-0.33H1V0.33H-1Z", "symbolSize": 560, "symbolStrokeColor": "#555555", "symbolStrokeWidth": 1, "rowPadding": 5}}
      }
    },
    {
      "data": {"values": [
        {"lo":15.6,"hi":18.98,"n":8},{"lo":18.98,"hi":23.09,"n":63},{"lo":23.09,"hi":28.1,"n":114},{"lo":28.1,"hi":34.2,"n":302},{"lo":34.2,"hi":41.61,"n":386},{"lo":41.61,"hi":50.63,"n":585},{"lo":50.63,"hi":61.6,"n":706},{"lo":61.6,"hi":74.95,"n":998},{"lo":74.95,"hi":91.22,"n":1048},{"lo":91.22,"hi":111,"n":895},{"lo":111,"hi":135.05,"n":614},{"lo":135.05,"hi":164.3,"n":198},{"lo":164.3,"hi":200,"n":49}
      ]},
      "mark": {"type": "rect", "strokeWidth": 1, "stroke": "#555555"},
      "encoding": {
        "x": {"field": "lo", "type": "quantitative", "scale": {"type": "log", "domain": [1, 200], "range": [615, 1132], "nice": false}, "axis": null},
        "x2": {"field": "hi"},
        "y": {"field": "n", "type": "quantitative", "scale": {"domain": [0, 1200], "range": [462, 0], "nice": false}, "axis": null},
        "y2": {"datum": 0},
        "fill": {"datum": "Other SNIa and SNcc models", "type": "nominal"}
      }
    },
    {
      "data": {"values": [
        {"lo":1.217,"hi":1.481,"n":2},{"lo":1.481,"hi":1.801,"n":5},{"lo":1.801,"hi":2.192,"n":3},{"lo":2.192,"hi":2.667,"n":5},{"lo":2.667,"hi":3.245,"n":10},{"lo":3.245,"hi":3.949,"n":13},{"lo":3.949,"hi":4.805,"n":34},{"lo":4.805,"hi":5.847,"n":53},{"lo":5.847,"hi":7.115,"n":49},{"lo":7.115,"hi":8.657,"n":83},{"lo":8.657,"hi":10.54,"n":137},{"lo":10.54,"hi":12.82,"n":171},{"lo":12.82,"hi":15.6,"n":184},{"lo":15.6,"hi":18.98,"n":200},{"lo":18.98,"hi":23.09,"n":226},{"lo":23.09,"hi":28.1,"n":308},{"lo":28.1,"hi":34.2,"n":318},{"lo":34.2,"hi":41.61,"n":193},{"lo":41.61,"hi":50.63,"n":181},{"lo":50.63,"hi":61.6,"n":98},{"lo":61.6,"hi":74.95,"n":132},{"lo":74.95,"hi":91.22,"n":132},{"lo":91.22,"hi":111,"n":65},{"lo":111,"hi":135.05,"n":29},{"lo":135.05,"hi":164.3,"n":35},{"lo":164.3,"hi":200,"n":41}
      ]},
      "mark": {"type": "rect", "strokeWidth": 1, "stroke": "#555555", "fillOpacity": 0.82},
      "encoding": {
        "x": {"field": "lo", "type": "quantitative", "scale": {"type": "log", "domain": [1, 200], "range": [615, 1132], "nice": false}, "axis": null},
        "x2": {"field": "hi"},
        "y": {"field": "n", "type": "quantitative", "scale": {"domain": [0, 1200], "range": [462, 0], "nice": false}, "axis": null},
        "y2": {"datum": 0},
        "fill": {"datum": "SNIa or SNcc input model", "type": "nominal"}
      }
    },
    {
      "data": {"values": [
        {"lo":1.481,"hi":1.801,"n":1},{"lo":2.192,"hi":2.667,"n":1},{"lo":3.949,"hi":4.805,"n":3},{"lo":4.805,"hi":5.847,"n":3},{"lo":5.847,"hi":7.115,"n":2},{"lo":7.115,"hi":8.657,"n":3},{"lo":8.657,"hi":10.54,"n":1},{"lo":10.54,"hi":12.82,"n":1},{"lo":15.6,"hi":18.98,"n":1},{"lo":18.98,"hi":23.09,"n":1},{"lo":23.09,"hi":28.1,"n":2}
      ]},
      "mark": {"type": "rect", "strokeWidth": 1, "stroke": "#000000"},
      "encoding": {
        "x": {"field": "lo", "type": "quantitative", "scale": {"type": "log", "domain": [1, 200], "range": [615, 1132], "nice": false}, "axis": null},
        "x2": {"field": "hi"},
        "y": {"field": "n", "type": "quantitative", "scale": {"domain": [0, 1200], "range": [462, 0], "nice": false}, "axis": null},
        "y2": {"datum": 0},
        "fill": {"datum": "SNIa and SNcc input models", "type": "nominal"}
      }
    },
    {
      "data": {"values": [{"x": 5, "y": 0, "y2": 1200}]},
      "mark": {"type": "rule", "color": "#c62a2a", "strokeWidth": 2.2, "strokeDash": [8, 4.5]},
      "encoding": {
        "x": {"field": "x", "type": "quantitative", "scale": {"type": "log", "domain": [1, 200], "range": [615, 1132], "nice": false}, "axis": null},
        "y": {"field": "y", "type": "quantitative", "scale": {"domain": [0, 1200], "range": [462, 0], "nice": false}, "axis": null},
        "y2": {"field": "y2"}
      }
    },
    {
      "data": {"values": [{"x": 1, "x2": 200, "y": 0, "y2": 1200}]},
      "mark": {"type": "rect", "filled": false, "color": "black", "strokeWidth": 1.1},
      "encoding": {
        "x": {"field": "x", "type": "quantitative", "scale": {"type": "log", "domain": [1, 200], "range": [615, 1132], "nice": false}, "axis": null},
        "x2": {"field": "x2"},
        "y": {"field": "y", "type": "quantitative", "scale": {"domain": [0, 1200], "range": [462, 0], "nice": false}, "axis": null},
        "y2": {"field": "y2"}
      }
    },
    {
      "data": {"values": [{"x": 1, "x2": 5, "y": 0.7, "y2": 60}]},
      "mark": {"type": "rect", "fill": "white"},
      "encoding": {
        "x": {"field": "x", "type": "quantitative", "scale": {"type": "log", "domain": [1, 5], "range": [657, 870], "nice": false, "clamp": true},
          "axis": {"orient": "bottom", "offset": -129, "title": null, "values": [1,2,3,4,5], "format": "d", "tickSize": 5}},
        "x2": {"field": "x2"},
        "y": {"field": "y", "type": "quantitative", "scale": {"type": "log", "domain": [0.7, 60], "range": [333, 196], "nice": false, "clamp": true},
          "axis": {"orient": "left", "offset": -657, "title": null, "values": [1,2,3,4,5,6,7,8,9,10,20,30,40,50,60],
            "labelExpr": "indexof([1,10,60], datum.value) >= 0 ? datum.value + '' : ''", "tickSize": 3}},
        "y2": {"field": "y2"}
      }
    },
    {
      "data": {"values": [
        {"lo":1.217,"hi":1.481,"n":2},{"lo":1.481,"hi":1.801,"n":6},{"lo":1.801,"hi":2.192,"n":3},{"lo":2.192,"hi":2.667,"n":6},{"lo":2.667,"hi":3.245,"n":10},{"lo":3.245,"hi":3.949,"n":13},{"lo":3.949,"hi":4.805,"n":37},{"lo":4.805,"hi":5.847,"n":56}
      ]},
      "mark": {"type": "rect", "strokeWidth": 1, "stroke": "#d2d2d2"},
      "encoding": {
        "x": {"field": "lo", "type": "quantitative", "scale": {"type": "log", "domain": [1, 5], "range": [657, 870], "nice": false, "clamp": true}, "axis": null},
        "x2": {"field": "hi"},
        "y": {"field": "n", "type": "quantitative", "scale": {"type": "log", "domain": [0.7, 60], "range": [333, 196], "nice": false, "clamp": true}, "axis": null},
        "y2": {"datum": 0.7},
        "fill": {"datum": "Total", "type": "nominal"}
      }
    },
    {
      "data": {"values": [
        {"lo":1.217,"hi":1.481,"n":2},{"lo":1.481,"hi":1.801,"n":5},{"lo":1.801,"hi":2.192,"n":3},{"lo":2.192,"hi":2.667,"n":5},{"lo":2.667,"hi":3.245,"n":10},{"lo":3.245,"hi":3.949,"n":13},{"lo":3.949,"hi":4.805,"n":34},{"lo":4.805,"hi":5.847,"n":53}
      ]},
      "mark": {"type": "rect", "strokeWidth": 1, "stroke": "#555555", "fillOpacity": 0.82},
      "encoding": {
        "x": {"field": "lo", "type": "quantitative", "scale": {"type": "log", "domain": [1, 5], "range": [657, 870], "nice": false, "clamp": true}, "axis": null},
        "x2": {"field": "hi"},
        "y": {"field": "n", "type": "quantitative", "scale": {"type": "log", "domain": [0.7, 60], "range": [333, 196], "nice": false, "clamp": true}, "axis": null},
        "y2": {"datum": 0.7},
        "fill": {"datum": "SNIa or SNcc input model", "type": "nominal"}
      }
    },
    {
      "data": {"values": [
        {"lo":1.481,"hi":1.801,"n":1},{"lo":2.192,"hi":2.667,"n":1},{"lo":3.949,"hi":4.805,"n":3},{"lo":4.805,"hi":5.847,"n":3}
      ]},
      "mark": {"type": "rect", "strokeWidth": 1, "stroke": "#000000"},
      "encoding": {
        "x": {"field": "lo", "type": "quantitative", "scale": {"type": "log", "domain": [1, 5], "range": [657, 870], "nice": false, "clamp": true}, "axis": null},
        "x2": {"field": "hi"},
        "y": {"field": "n", "type": "quantitative", "scale": {"type": "log", "domain": [0.7, 60], "range": [333, 196], "nice": false, "clamp": true}, "axis": null},
        "y2": {"datum": 0.7},
        "fill": {"datum": "SNIa and SNcc input models", "type": "nominal"}
      }
    },
    {
      "data": {"values": [{"x": 1, "x2": 5, "y": 0.7, "y2": 60}]},
      "mark": {"type": "rect", "filled": false, "color": "black", "strokeWidth": 1.1},
      "encoding": {
        "x": {"field": "x", "type": "quantitative", "scale": {"type": "log", "domain": [1, 5], "range": [657, 870], "nice": false, "clamp": true}, "axis": null},
        "x2": {"field": "x2"},
        "y": {"field": "y", "type": "quantitative", "scale": {"type": "log", "domain": [0.7, 60], "range": [333, 196], "nice": false, "clamp": true}, "axis": null},
        "y2": {"field": "y2"}
      }
    }
  ]
}
